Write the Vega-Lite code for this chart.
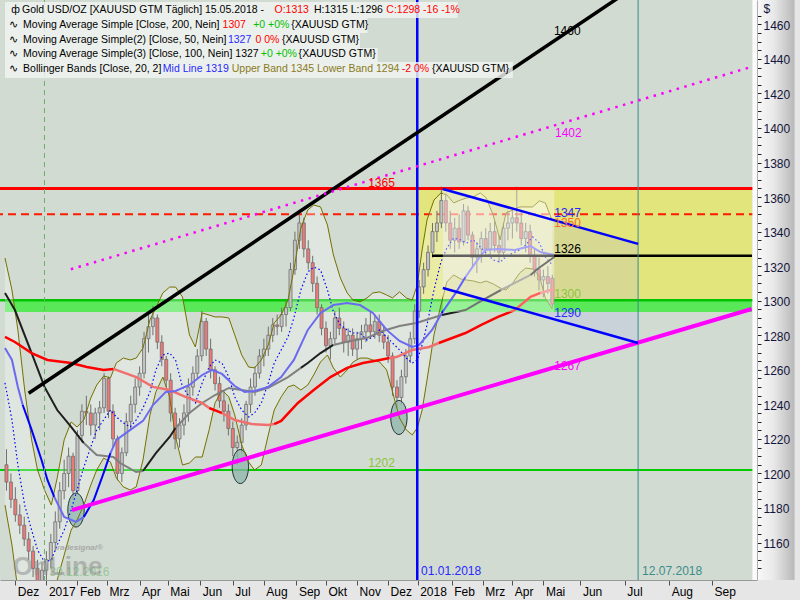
{
  "$schema": "https://vega.github.io/schema/vega-lite/v6.json",
  "width": 757,
  "height": 580,
  "autosize": "none",
  "padding": {"left": 0, "top": 0, "right": 43, "bottom": 20},
  "background": "#e6e6e6",
  "config": {
    "view": {"stroke": null, "fill": "#d1dbd1"},
    "axis": {"grid": false, "labelOverlap": false},
    "text": {"font": "Liberation Sans"}
  },
  "datasets": {
    "candles": [
      {"t": -6, "o": 1205, "h": 1214, "l": 1190, "c": 1195},
      {"t": -3, "o": 1195, "h": 1200, "l": 1180, "c": 1185},
      {"t": 0, "o": 1185, "h": 1192, "l": 1172, "c": 1176},
      {"t": 3, "o": 1176, "h": 1182, "l": 1165, "c": 1170},
      {"t": 6, "o": 1170, "h": 1175, "l": 1158, "c": 1162},
      {"t": 9, "o": 1162, "h": 1166, "l": 1150, "c": 1155},
      {"t": 12, "o": 1155, "h": 1158, "l": 1140, "c": 1145},
      {"t": 15, "o": 1145, "h": 1150, "l": 1128, "c": 1133},
      {"t": 18, "o": 1133, "h": 1148, "l": 1126, "c": 1144},
      {"t": 21, "o": 1144, "h": 1155, "l": 1138, "c": 1150},
      {"t": 24, "o": 1150, "h": 1165, "l": 1145, "c": 1160},
      {"t": 27, "o": 1160, "h": 1178, "l": 1155, "c": 1172},
      {"t": 30, "o": 1172, "h": 1195, "l": 1168, "c": 1190},
      {"t": 33, "o": 1190, "h": 1208, "l": 1185, "c": 1200},
      {"t": 36, "o": 1200, "h": 1215, "l": 1192, "c": 1210},
      {"t": 39, "o": 1210, "h": 1212, "l": 1185, "c": 1190},
      {"t": 42, "o": 1190, "h": 1225, "l": 1188, "c": 1222},
      {"t": 45, "o": 1222, "h": 1240, "l": 1218, "c": 1236},
      {"t": 48, "o": 1236, "h": 1245, "l": 1228, "c": 1235},
      {"t": 51, "o": 1235, "h": 1240, "l": 1222, "c": 1228},
      {"t": 54, "o": 1228, "h": 1238, "l": 1220, "c": 1235},
      {"t": 57, "o": 1235, "h": 1242, "l": 1225, "c": 1238},
      {"t": 60, "o": 1238, "h": 1258, "l": 1235, "c": 1255},
      {"t": 63, "o": 1255, "h": 1256, "l": 1232, "c": 1236},
      {"t": 66, "o": 1236, "h": 1240, "l": 1215, "c": 1220},
      {"t": 69, "o": 1220, "h": 1222, "l": 1196, "c": 1200},
      {"t": 72, "o": 1200, "h": 1215, "l": 1195, "c": 1212},
      {"t": 75, "o": 1212, "h": 1235, "l": 1210, "c": 1230},
      {"t": 78, "o": 1230, "h": 1245, "l": 1225, "c": 1240},
      {"t": 81, "o": 1240, "h": 1255, "l": 1235, "c": 1250},
      {"t": 84, "o": 1250, "h": 1262, "l": 1245, "c": 1258},
      {"t": 87, "o": 1258, "h": 1282, "l": 1255, "c": 1278},
      {"t": 90, "o": 1278, "h": 1292, "l": 1270, "c": 1285},
      {"t": 93, "o": 1285, "h": 1297, "l": 1280, "c": 1290},
      {"t": 96, "o": 1290, "h": 1292, "l": 1272, "c": 1276},
      {"t": 99, "o": 1276, "h": 1280, "l": 1262, "c": 1266},
      {"t": 102, "o": 1266, "h": 1268, "l": 1250, "c": 1254},
      {"t": 105, "o": 1254, "h": 1258, "l": 1230, "c": 1235},
      {"t": 108, "o": 1235, "h": 1238, "l": 1214, "c": 1220},
      {"t": 111, "o": 1220, "h": 1232, "l": 1215, "c": 1228},
      {"t": 114, "o": 1228, "h": 1240, "l": 1222, "c": 1235},
      {"t": 117, "o": 1235, "h": 1255, "l": 1230, "c": 1250},
      {"t": 120, "o": 1250, "h": 1262, "l": 1245, "c": 1258},
      {"t": 123, "o": 1258, "h": 1272, "l": 1255, "c": 1268},
      {"t": 126, "o": 1268, "h": 1294, "l": 1265, "c": 1288},
      {"t": 129, "o": 1288, "h": 1290, "l": 1268, "c": 1272},
      {"t": 132, "o": 1272, "h": 1278, "l": 1255, "c": 1260},
      {"t": 135, "o": 1260, "h": 1262, "l": 1248, "c": 1252},
      {"t": 138, "o": 1252, "h": 1256, "l": 1238, "c": 1242},
      {"t": 141, "o": 1242, "h": 1248, "l": 1230, "c": 1236},
      {"t": 144, "o": 1236, "h": 1240, "l": 1222, "c": 1226},
      {"t": 147, "o": 1226, "h": 1230, "l": 1210, "c": 1215},
      {"t": 150, "o": 1215, "h": 1222, "l": 1205, "c": 1218},
      {"t": 153, "o": 1218, "h": 1232, "l": 1212, "c": 1228},
      {"t": 156, "o": 1228, "h": 1242, "l": 1225, "c": 1240},
      {"t": 159, "o": 1240, "h": 1255, "l": 1235, "c": 1250},
      {"t": 162, "o": 1250, "h": 1262, "l": 1245, "c": 1258},
      {"t": 165, "o": 1258, "h": 1272, "l": 1255, "c": 1268},
      {"t": 168, "o": 1268, "h": 1278, "l": 1262, "c": 1272},
      {"t": 171, "o": 1272, "h": 1285, "l": 1268, "c": 1280},
      {"t": 174, "o": 1280, "h": 1290, "l": 1276, "c": 1286},
      {"t": 177, "o": 1286, "h": 1292, "l": 1280, "c": 1285},
      {"t": 180, "o": 1285, "h": 1296, "l": 1282, "c": 1292},
      {"t": 183, "o": 1292, "h": 1300, "l": 1285, "c": 1296},
      {"t": 186, "o": 1296, "h": 1322, "l": 1294, "c": 1318},
      {"t": 189, "o": 1318, "h": 1340, "l": 1315, "c": 1335},
      {"t": 192, "o": 1335, "h": 1352, "l": 1330, "c": 1345},
      {"t": 195, "o": 1345, "h": 1348, "l": 1325, "c": 1330},
      {"t": 198, "o": 1330, "h": 1335, "l": 1318, "c": 1322},
      {"t": 201, "o": 1322, "h": 1326, "l": 1305, "c": 1310},
      {"t": 204, "o": 1310, "h": 1314, "l": 1292, "c": 1296},
      {"t": 207, "o": 1296, "h": 1298, "l": 1280, "c": 1284},
      {"t": 210, "o": 1284, "h": 1288, "l": 1270, "c": 1274},
      {"t": 213, "o": 1274, "h": 1282, "l": 1266, "c": 1278},
      {"t": 216, "o": 1278, "h": 1294, "l": 1275, "c": 1290},
      {"t": 219, "o": 1290, "h": 1296, "l": 1280, "c": 1284},
      {"t": 222, "o": 1284, "h": 1288, "l": 1270, "c": 1276},
      {"t": 225, "o": 1276, "h": 1284, "l": 1268, "c": 1280},
      {"t": 228, "o": 1280, "h": 1284, "l": 1268, "c": 1272},
      {"t": 231, "o": 1272, "h": 1282, "l": 1266, "c": 1278},
      {"t": 234, "o": 1278, "h": 1286, "l": 1272, "c": 1282},
      {"t": 237, "o": 1282, "h": 1290, "l": 1276, "c": 1286},
      {"t": 240, "o": 1286, "h": 1294, "l": 1278, "c": 1282},
      {"t": 243, "o": 1282, "h": 1292, "l": 1278, "c": 1288},
      {"t": 246, "o": 1288, "h": 1292, "l": 1276, "c": 1280},
      {"t": 249, "o": 1280, "h": 1286, "l": 1272, "c": 1276},
      {"t": 252, "o": 1276, "h": 1280, "l": 1264, "c": 1268},
      {"t": 255, "o": 1268, "h": 1270, "l": 1245, "c": 1250},
      {"t": 258, "o": 1250, "h": 1254, "l": 1238, "c": 1244},
      {"t": 261, "o": 1244, "h": 1260, "l": 1240, "c": 1256},
      {"t": 264, "o": 1256, "h": 1272, "l": 1252, "c": 1268},
      {"t": 267, "o": 1268, "h": 1282, "l": 1264, "c": 1278},
      {"t": 270, "o": 1278, "h": 1298, "l": 1275, "c": 1294},
      {"t": 273, "o": 1294, "h": 1312, "l": 1290, "c": 1308},
      {"t": 276, "o": 1308, "h": 1322, "l": 1304, "c": 1318},
      {"t": 279, "o": 1318, "h": 1332, "l": 1314, "c": 1328},
      {"t": 282, "o": 1328, "h": 1345, "l": 1325, "c": 1340},
      {"t": 285, "o": 1340, "h": 1352, "l": 1334, "c": 1345},
      {"t": 288, "o": 1345, "h": 1366, "l": 1342, "c": 1358},
      {"t": 291, "o": 1358, "h": 1362, "l": 1340, "c": 1345},
      {"t": 294, "o": 1345, "h": 1352, "l": 1330, "c": 1335},
      {"t": 297, "o": 1335, "h": 1348, "l": 1328, "c": 1342},
      {"t": 300, "o": 1342, "h": 1350, "l": 1330, "c": 1334},
      {"t": 303, "o": 1334, "h": 1356, "l": 1332, "c": 1352},
      {"t": 306, "o": 1352, "h": 1355, "l": 1335, "c": 1338},
      {"t": 309, "o": 1338, "h": 1340, "l": 1320, "c": 1325},
      {"t": 312, "o": 1325, "h": 1334, "l": 1316, "c": 1330},
      {"t": 315, "o": 1330, "h": 1340, "l": 1322, "c": 1336},
      {"t": 318, "o": 1336, "h": 1342, "l": 1326, "c": 1330},
      {"t": 321, "o": 1330, "h": 1345, "l": 1326, "c": 1340},
      {"t": 324, "o": 1340, "h": 1346, "l": 1328, "c": 1332},
      {"t": 327, "o": 1332, "h": 1338, "l": 1322, "c": 1328},
      {"t": 330, "o": 1328, "h": 1345, "l": 1325, "c": 1342},
      {"t": 333, "o": 1342, "h": 1352, "l": 1335, "c": 1345},
      {"t": 336, "o": 1345, "h": 1354, "l": 1336, "c": 1348},
      {"t": 339, "o": 1348, "h": 1366, "l": 1340, "c": 1345},
      {"t": 342, "o": 1345, "h": 1352, "l": 1332, "c": 1336},
      {"t": 345, "o": 1336, "h": 1345, "l": 1328, "c": 1340},
      {"t": 348, "o": 1340, "h": 1344, "l": 1322, "c": 1326},
      {"t": 351, "o": 1326, "h": 1330, "l": 1314, "c": 1318},
      {"t": 354, "o": 1318, "h": 1325, "l": 1306, "c": 1312},
      {"t": 357, "o": 1312, "h": 1318, "l": 1302, "c": 1314},
      {"t": 360, "o": 1314, "h": 1320, "l": 1304, "c": 1310},
      {"t": 363, "o": 1313, "h": 1315, "l": 1296, "c": 1298}
    ],
    "bb": [
      {"t": -7, "up": 1324.7, "lo": 1181.7, "mid": 1252.4},
      {"t": -2.3, "up": 1306.2, "lo": 1158.6, "mid": 1231.0},
      {"t": 1.7, "up": 1283.1, "lo": 1132.5, "mid": 1204.9},
      {"t": 6.3, "up": 1248.3, "lo": 1118.1, "mid": 1181.7},
      {"t": 11, "up": 1219.4, "lo": 1112.3, "mid": 1167.2},
      {"t": 15, "up": 1202.0, "lo": 1110.5, "mid": 1155.7},
      {"t": 19.7, "up": 1190.4, "lo": 1114.0, "mid": 1148.7},
      {"t": 24.3, "up": 1181.7, "lo": 1123.8, "mid": 1149.9},
      {"t": 28.3, "up": 1197.4, "lo": 1138.3, "mid": 1158.6},
      {"t": 33, "up": 1219.4, "lo": 1152.8, "mid": 1167.2},
      {"t": 37.7, "up": 1229.8, "lo": 1167.2, "mid": 1178.8},
      {"t": 41.7, "up": 1226.9, "lo": 1173.0, "mid": 1190.4},
      {"t": 46.3, "up": 1231.0, "lo": 1181.7, "mid": 1203.7},
      {"t": 51, "up": 1243.7, "lo": 1193.3, "mid": 1215.3},
      {"t": 55, "up": 1251.2, "lo": 1202.0, "mid": 1225.2},
      {"t": 59.7, "up": 1256.4, "lo": 1208.9, "mid": 1231.0},
      {"t": 64.3, "up": 1255.3, "lo": 1206.6, "mid": 1236.7},
      {"t": 68.3, "up": 1264.0, "lo": 1197.4, "mid": 1232.7},
      {"t": 73, "up": 1266.8, "lo": 1192.2, "mid": 1229.2},
      {"t": 77.7, "up": 1265.7, "lo": 1190.4, "mid": 1226.9},
      {"t": 81.7, "up": 1266.8, "lo": 1192.2, "mid": 1231.0},
      {"t": 86.3, "up": 1272.6, "lo": 1207.8, "mid": 1237.9},
      {"t": 91, "up": 1288.9, "lo": 1233.8, "mid": 1247.2},
      {"t": 95, "up": 1295.8, "lo": 1247.2, "mid": 1259.9},
      {"t": 99.7, "up": 1304.5, "lo": 1255.8, "mid": 1268.6},
      {"t": 104.3, "up": 1307.9, "lo": 1244.3, "mid": 1269.7},
      {"t": 108.3, "up": 1307.9, "lo": 1221.1, "mid": 1265.7},
      {"t": 113, "up": 1302.2, "lo": 1204.9, "mid": 1250.1},
      {"t": 117.7, "up": 1280.2, "lo": 1206.0, "mid": 1244.3},
      {"t": 121.7, "up": 1273.2, "lo": 1209.5, "mid": 1240.8},
      {"t": 126.3, "up": 1292.9, "lo": 1209.5, "mid": 1252.4},
      {"t": 131, "up": 1291.7, "lo": 1225.2, "mid": 1261.6},
      {"t": 135, "up": 1290.6, "lo": 1240.8, "mid": 1265.7},
      {"t": 139.7, "up": 1290.6, "lo": 1248.3, "mid": 1263.9},
      {"t": 144.3, "up": 1290.0, "lo": 1244.3, "mid": 1255.8},
      {"t": 148.3, "up": 1280.2, "lo": 1233.9, "mid": 1244.3},
      {"t": 153, "up": 1268.6, "lo": 1216.5, "mid": 1236.7},
      {"t": 157.7, "up": 1261.6, "lo": 1206.6, "mid": 1232.7},
      {"t": 161.7, "up": 1261.1, "lo": 1202.0, "mid": 1235.0},
      {"t": 166.3, "up": 1265.7, "lo": 1204.9, "mid": 1240.8},
      {"t": 171, "up": 1274.4, "lo": 1222.3, "mid": 1252.4},
      {"t": 175, "up": 1287.1, "lo": 1236.7, "mid": 1263.9},
      {"t": 179.7, "up": 1291.7, "lo": 1244.3, "mid": 1271.5},
      {"t": 184.3, "up": 1300.4, "lo": 1250.1, "mid": 1279.0},
      {"t": 188.3, "up": 1317.8, "lo": 1251.2, "mid": 1290.0},
      {"t": 193, "up": 1342.1, "lo": 1248.3, "mid": 1306.2},
      {"t": 197.7, "up": 1352.5, "lo": 1251.2, "mid": 1316.6},
      {"t": 201.7, "up": 1355.4, "lo": 1257.0, "mid": 1319.5},
      {"t": 206.3, "up": 1354.3, "lo": 1264.5, "mid": 1317.8},
      {"t": 211, "up": 1343.8, "lo": 1268.6, "mid": 1306.2},
      {"t": 215, "up": 1326.5, "lo": 1261.1, "mid": 1293.5},
      {"t": 219.7, "up": 1313.2, "lo": 1255.8, "mid": 1285.9},
      {"t": 224.3, "up": 1304.5, "lo": 1259.9, "mid": 1283.1},
      {"t": 228.3, "up": 1300.4, "lo": 1264.5, "mid": 1281.3},
      {"t": 233, "up": 1299.3, "lo": 1266.8, "mid": 1281.3},
      {"t": 237.7, "up": 1301.6, "lo": 1266.8, "mid": 1277.3},
      {"t": 241.7, "up": 1304.5, "lo": 1265.7, "mid": 1279.0},
      {"t": 246.3, "up": 1305.1, "lo": 1264.5, "mid": 1283.1},
      {"t": 251, "up": 1303.3, "lo": 1259.9, "mid": 1279.0},
      {"t": 255, "up": 1301.6, "lo": 1247.2, "mid": 1275.5},
      {"t": 259.7, "up": 1305.1, "lo": 1232.1, "mid": 1271.5},
      {"t": 264.3, "up": 1301.6, "lo": 1225.2, "mid": 1266.8},
      {"t": 268.3, "up": 1300.4, "lo": 1222.3, "mid": 1263.9},
      {"t": 271.7, "up": 1309.1, "lo": 1226.3, "mid": 1265.7},
      {"t": 275, "up": 1329.4, "lo": 1236.7, "mid": 1274.4},
      {"t": 278.3, "up": 1346.7, "lo": 1254.1, "mid": 1286.0},
      {"t": 283, "up": 1358.3, "lo": 1280.2, "mid": 1306.2},
      {"t": 287.7, "up": 1362.4, "lo": 1297.5, "mid": 1322.4},
      {"t": 291.7, "up": 1361.2, "lo": 1310.9, "mid": 1330.5},
      {"t": 296.3, "up": 1356.6, "lo": 1314.9, "mid": 1336.3},
      {"t": 301, "up": 1358.3, "lo": 1312.6, "mid": 1335.2},
      {"t": 305, "up": 1359.5, "lo": 1312.0, "mid": 1333.4},
      {"t": 309.7, "up": 1360.1, "lo": 1311.4, "mid": 1335.2},
      {"t": 314.3, "up": 1362.4, "lo": 1310.3, "mid": 1331.1},
      {"t": 318.3, "up": 1359.5, "lo": 1311.4, "mid": 1327.6},
      {"t": 323, "up": 1349.6, "lo": 1309.7, "mid": 1323.6},
      {"t": 327.7, "up": 1335.2, "lo": 1307.4, "mid": 1322.4},
      {"t": 331.7, "up": 1350.8, "lo": 1306.2, "mid": 1325.3},
      {"t": 336.3, "up": 1352.5, "lo": 1310.3, "mid": 1327.6},
      {"t": 341, "up": 1354.3, "lo": 1316.1, "mid": 1329.4},
      {"t": 345, "up": 1354.3, "lo": 1318.9, "mid": 1332.3},
      {"t": 349.7, "up": 1354.3, "lo": 1318.4, "mid": 1336.9},
      {"t": 354.3, "up": 1357.8, "lo": 1314.3, "mid": 1333.4},
      {"t": 358.3, "up": 1356.6, "lo": 1301.6, "mid": 1325.3},
      {"t": 363, "up": 1346.2, "lo": 1295.2, "mid": 1320.7}
    ],
    "ma200": [
      {"t": -7, "p": 1279.0, "seg": 1, "tone": "a"},
      {"t": -0.3, "p": 1276.1, "seg": 1, "tone": "a"},
      {"t": 11, "p": 1269.7, "seg": 1, "tone": "a"},
      {"t": 21.7, "p": 1265.7, "seg": 1, "tone": "a"},
      {"t": 37.7, "p": 1263.9, "seg": 1, "tone": "a"},
      {"t": 48.3, "p": 1261.6, "seg": 1, "tone": "a"},
      {"t": 59.7, "p": 1259.9, "seg": 1, "tone": "a"},
      {"t": 66.3, "p": 1260.5, "seg": 1, "tone": "a"},
      {"t": 66.3, "p": 1260.5, "seg": 2, "tone": "b"},
      {"t": 81.7, "p": 1255.8, "seg": 2, "tone": "b"},
      {"t": 93, "p": 1250.1, "seg": 2, "tone": "b"},
      {"t": 104.3, "p": 1248.3, "seg": 2, "tone": "b"},
      {"t": 115, "p": 1244.3, "seg": 2, "tone": "b"},
      {"t": 126.3, "p": 1240.8, "seg": 2, "tone": "b"},
      {"t": 131, "p": 1237.9, "seg": 2, "tone": "b"},
      {"t": 131, "p": 1237.9, "seg": 3, "tone": "a"},
      {"t": 137.7, "p": 1235.6, "seg": 3, "tone": "a"},
      {"t": 139.7, "p": 1235.0, "seg": 3, "tone": "a"},
      {"t": 139.7, "p": 1235.0, "seg": 4, "tone": "b"},
      {"t": 148.3, "p": 1230.9, "seg": 4, "tone": "b"},
      {"t": 159.7, "p": 1228.6, "seg": 4, "tone": "b"},
      {"t": 171, "p": 1228.0, "seg": 4, "tone": "b"},
      {"t": 175, "p": 1228.6, "seg": 4, "tone": "b"},
      {"t": 175, "p": 1228.6, "seg": 5, "tone": "a"},
      {"t": 179.7, "p": 1230.4, "seg": 5, "tone": "a"},
      {"t": 191, "p": 1240.8, "seg": 5, "tone": "a"},
      {"t": 201.7, "p": 1248.3, "seg": 5, "tone": "a"},
      {"t": 213, "p": 1255.8, "seg": 5, "tone": "a"},
      {"t": 224.3, "p": 1261.1, "seg": 5, "tone": "a"},
      {"t": 235, "p": 1263.9, "seg": 5, "tone": "a"},
      {"t": 246.3, "p": 1265.7, "seg": 5, "tone": "a"},
      {"t": 253, "p": 1266.8, "seg": 5, "tone": "a"},
      {"t": 253, "p": 1266.8, "seg": 6, "tone": "b"},
      {"t": 257.7, "p": 1267.4, "seg": 6, "tone": "b"},
      {"t": 268.3, "p": 1271.5, "seg": 6, "tone": "b"},
      {"t": 279.7, "p": 1273.2, "seg": 6, "tone": "b"},
      {"t": 286.3, "p": 1275.5, "seg": 6, "tone": "b"},
      {"t": 286.3, "p": 1275.5, "seg": 7, "tone": "a"},
      {"t": 304.3, "p": 1281.3, "seg": 7, "tone": "a"},
      {"t": 315, "p": 1286.0, "seg": 7, "tone": "a"},
      {"t": 326.3, "p": 1290.6, "seg": 7, "tone": "a"},
      {"t": 337.7, "p": 1294.6, "seg": 7, "tone": "a"},
      {"t": 348.3, "p": 1302.2, "seg": 7, "tone": "a"},
      {"t": 355, "p": 1304.5, "seg": 7, "tone": "a"},
      {"t": 355, "p": 1304.5, "seg": 8, "tone": "b"},
      {"t": 364.3, "p": 1306.8, "seg": 8, "tone": "b"}
    ],
    "ma50": [
      {"t": -7, "p": 1272.6, "seg": 1, "tone": "a"},
      {"t": -2.3, "p": 1265.7, "seg": 1, "tone": "a"},
      {"t": 1.7, "p": 1250.1, "seg": 1, "tone": "a"},
      {"t": 5, "p": 1239.6, "seg": 1, "tone": "a"},
      {"t": 5, "p": 1239.6, "seg": 2, "tone": "b"},
      {"t": 11, "p": 1225.2, "seg": 2, "tone": "b"},
      {"t": 17.7, "p": 1207.8, "seg": 2, "tone": "b"},
      {"t": 21.7, "p": 1196.2, "seg": 2, "tone": "b"},
      {"t": 26.3, "p": 1186.4, "seg": 2, "tone": "b"},
      {"t": 26.3, "p": 1186.4, "seg": 3, "tone": "a"},
      {"t": 33, "p": 1174.8, "seg": 3, "tone": "a"},
      {"t": 41, "p": 1171.9, "seg": 3, "tone": "a"},
      {"t": 46.3, "p": 1174.8, "seg": 3, "tone": "a"},
      {"t": 46.3, "p": 1174.8, "seg": 4, "tone": "b"},
      {"t": 53, "p": 1184.6, "seg": 4, "tone": "b"},
      {"t": 59.7, "p": 1200.3, "seg": 4, "tone": "b"},
      {"t": 64.3, "p": 1211.8, "seg": 4, "tone": "b"},
      {"t": 64.3, "p": 1211.8, "seg": 5, "tone": "a"},
      {"t": 68.3, "p": 1219.4, "seg": 5, "tone": "a"},
      {"t": 77.7, "p": 1225.2, "seg": 5, "tone": "a"},
      {"t": 86.3, "p": 1230.4, "seg": 5, "tone": "a"},
      {"t": 93, "p": 1239.6, "seg": 5, "tone": "a"},
      {"t": 101.7, "p": 1247.2, "seg": 5, "tone": "a"},
      {"t": 108.3, "p": 1247.7, "seg": 5, "tone": "a"},
      {"t": 117.7, "p": 1251.2, "seg": 5, "tone": "a"},
      {"t": 126.3, "p": 1257.0, "seg": 5, "tone": "a"},
      {"t": 133, "p": 1259.9, "seg": 5, "tone": "a"},
      {"t": 139.7, "p": 1257.6, "seg": 5, "tone": "a"},
      {"t": 148.3, "p": 1250.6, "seg": 5, "tone": "a"},
      {"t": 155, "p": 1247.2, "seg": 5, "tone": "a"},
      {"t": 161.7, "p": 1247.7, "seg": 5, "tone": "a"},
      {"t": 171, "p": 1250.1, "seg": 5, "tone": "a"},
      {"t": 179.7, "p": 1255.8, "seg": 5, "tone": "a"},
      {"t": 188.3, "p": 1265.7, "seg": 5, "tone": "a"},
      {"t": 197.7, "p": 1283.1, "seg": 5, "tone": "a"},
      {"t": 206.3, "p": 1292.9, "seg": 5, "tone": "a"},
      {"t": 215, "p": 1297.5, "seg": 5, "tone": "a"},
      {"t": 224.3, "p": 1298.7, "seg": 5, "tone": "a"},
      {"t": 233, "p": 1297.5, "seg": 5, "tone": "a"},
      {"t": 241.7, "p": 1292.9, "seg": 5, "tone": "a"},
      {"t": 251, "p": 1283.1, "seg": 5, "tone": "a"},
      {"t": 259.7, "p": 1276.7, "seg": 5, "tone": "a"},
      {"t": 268.3, "p": 1273.2, "seg": 5, "tone": "a"},
      {"t": 273, "p": 1274.4, "seg": 5, "tone": "a"},
      {"t": 281.7, "p": 1283.1, "seg": 5, "tone": "a"},
      {"t": 288.3, "p": 1292.9, "seg": 5, "tone": "a"},
      {"t": 288.3, "p": 1292.9, "seg": 6, "tone": "b"},
      {"t": 297.7, "p": 1304.5, "seg": 6, "tone": "b"},
      {"t": 304.3, "p": 1313.7, "seg": 6, "tone": "b"},
      {"t": 304.3, "p": 1313.7, "seg": 7, "tone": "a"},
      {"t": 311, "p": 1321.9, "seg": 7, "tone": "a"},
      {"t": 317.7, "p": 1329.4, "seg": 7, "tone": "a"},
      {"t": 326.3, "p": 1329.9, "seg": 7, "tone": "a"},
      {"t": 337.7, "p": 1329.4, "seg": 7, "tone": "a"},
      {"t": 348.3, "p": 1331.7, "seg": 7, "tone": "a"},
      {"t": 355, "p": 1328.2, "seg": 7, "tone": "a"},
      {"t": 364.3, "p": 1326.5, "seg": 7, "tone": "a"}
    ],
    "ma100": [
      {"t": -7, "p": 1304.5, "seg": 1, "tone": "a"},
      {"t": -0.3, "p": 1294.6, "seg": 1, "tone": "a"},
      {"t": 11, "p": 1269.7, "seg": 1, "tone": "a"},
      {"t": 19.7, "p": 1250.1, "seg": 1, "tone": "a"},
      {"t": 28.3, "p": 1236.7, "seg": 1, "tone": "a"},
      {"t": 37.7, "p": 1226.9, "seg": 1, "tone": "a"},
      {"t": 46.3, "p": 1217.6, "seg": 1, "tone": "a"},
      {"t": 46.3, "p": 1217.6, "seg": 2, "tone": "b"},
      {"t": 55, "p": 1210.7, "seg": 2, "tone": "b"},
      {"t": 66.3, "p": 1209.5, "seg": 2, "tone": "b"},
      {"t": 71, "p": 1206.0, "seg": 2, "tone": "b"},
      {"t": 81.7, "p": 1200.8, "seg": 2, "tone": "b"},
      {"t": 86.3, "p": 1201.4, "seg": 2, "tone": "b"},
      {"t": 86.3, "p": 1201.4, "seg": 3, "tone": "a"},
      {"t": 95, "p": 1211.8, "seg": 3, "tone": "a"},
      {"t": 104.3, "p": 1221.1, "seg": 3, "tone": "a"},
      {"t": 108.3, "p": 1226.3, "seg": 3, "tone": "a"},
      {"t": 108.3, "p": 1226.3, "seg": 4, "tone": "b"},
      {"t": 117.7, "p": 1235.0, "seg": 4, "tone": "b"},
      {"t": 126.3, "p": 1240.8, "seg": 4, "tone": "b"},
      {"t": 135, "p": 1245.4, "seg": 4, "tone": "b"},
      {"t": 144.3, "p": 1249.5, "seg": 4, "tone": "b"},
      {"t": 153, "p": 1248.3, "seg": 4, "tone": "b"},
      {"t": 161.7, "p": 1247.2, "seg": 4, "tone": "b"},
      {"t": 171, "p": 1249.5, "seg": 4, "tone": "b"},
      {"t": 184.3, "p": 1255.8, "seg": 4, "tone": "b"},
      {"t": 193, "p": 1261.1, "seg": 4, "tone": "b"},
      {"t": 193, "p": 1261.1, "seg": 5, "tone": "a"},
      {"t": 197.7, "p": 1263.9, "seg": 5, "tone": "a"},
      {"t": 206.3, "p": 1269.7, "seg": 5, "tone": "a"},
      {"t": 215, "p": 1274.4, "seg": 5, "tone": "a"},
      {"t": 215, "p": 1274.4, "seg": 6, "tone": "b"},
      {"t": 226.3, "p": 1276.7, "seg": 6, "tone": "b"},
      {"t": 237.7, "p": 1278.4, "seg": 6, "tone": "b"},
      {"t": 248.3, "p": 1282.5, "seg": 6, "tone": "b"},
      {"t": 259.7, "p": 1285.4, "seg": 6, "tone": "b"},
      {"t": 271, "p": 1287.1, "seg": 6, "tone": "b"},
      {"t": 288.3, "p": 1291.7, "seg": 6, "tone": "b"},
      {"t": 288.3, "p": 1291.7, "seg": 7, "tone": "a"},
      {"t": 304.3, "p": 1294.6, "seg": 7, "tone": "a"},
      {"t": 315, "p": 1299.9, "seg": 7, "tone": "a"},
      {"t": 328.3, "p": 1306.2, "seg": 7, "tone": "a"},
      {"t": 328.3, "p": 1306.2, "seg": 8, "tone": "b"},
      {"t": 337.7, "p": 1310.3, "seg": 8, "tone": "b"},
      {"t": 348.3, "p": 1314.9, "seg": 8, "tone": "b"},
      {"t": 348.3, "p": 1314.9, "seg": 9, "tone": "a"},
      {"t": 353, "p": 1318.4, "seg": 9, "tone": "a"},
      {"t": 364.3, "p": 1325.3, "seg": 9, "tone": "a"}
    ],
    "labels": [
      {"t": 364.1, "p": 1456.4, "txt": "1460", "tone": "k"},
      {"t": 364.8, "p": 1397.3, "txt": "1402", "tone": "magenta"},
      {"t": 238.5, "p": 1368.0, "txt": "1365", "tone": "red"},
      {"t": 364.3, "p": 1345.2, "txt": "1350", "tone": "orange"},
      {"t": 364.3, "p": 1350.8, "txt": "1347", "tone": "blue"},
      {"t": 364.3, "p": 1329.9, "txt": "1326", "tone": "k"},
      {"t": 364.3, "p": 1303.9, "txt": "1300", "tone": "lime"},
      {"t": 364.3, "p": 1292.9, "txt": "1290", "tone": "blue"},
      {"t": 364.3, "p": 1262.2, "txt": "1267", "tone": "magenta"},
      {"t": 238.5, "p": 1205.9, "txt": "1202", "tone": "lime"},
      {"t": 274.3, "p": 1143.5, "txt": "01.01.2018", "tone": "blue"},
      {"t": 423.7, "p": 1143.5, "txt": "12.07.2018", "tone": "teal"},
      {"t": 23, "p": 1142.9, "txt": "30.12.2016", "tone": "pale"}
    ],
    "legend": [
      {"t": -2.8, "p": 1468.3, "txt": "ф", "tone": "k"},
      {"t": 4.5, "p": 1468.3, "txt": "Gold USD/OZ [XAUUSD GTM  Täglich] 15.05.2018 -", "tone": "k"},
      {"t": 175.2, "p": 1468.3, "txt": "O:1313", "tone": "red"},
      {"t": 201.9, "p": 1468.3, "txt": "H:1315 L:1296", "tone": "k"},
      {"t": 250.8, "p": 1468.3, "txt": "C:1298 -16 -1%", "tone": "red"},
      {"t": -4.3, "p": 1459.7, "txt": "∿", "tone": "k"},
      {"t": 5.2, "p": 1459.7, "txt": "Moving Average Simple [Close, 200, Nein]", "tone": "k"},
      {"t": 140.1, "p": 1459.7, "txt": "1307", "tone": "red"},
      {"t": 160.8, "p": 1459.7, "txt": "+0 +0%", "tone": "green"},
      {"t": 186.5, "p": 1459.7, "txt": "{XAUUSD GTM}", "tone": "k"},
      {"t": -4.3, "p": 1451.0, "txt": "∿", "tone": "k"},
      {"t": 5.2, "p": 1451.0, "txt": "Moving Average Simple(2) [Close, 50, Nein]", "tone": "k"},
      {"t": 143.7, "p": 1451.0, "txt": "1327", "tone": "blue"},
      {"t": 162.3, "p": 1451.0, "txt": "0 0%", "tone": "red"},
      {"t": 180.3, "p": 1451.0, "txt": "{XAUUSD GTM}", "tone": "k"},
      {"t": -4.3, "p": 1442.6, "txt": "∿", "tone": "k"},
      {"t": 5.2, "p": 1442.6, "txt": "Moving Average Simple(3) [Close, 100, Nein] 1327", "tone": "k"},
      {"t": 165.9, "p": 1442.6, "txt": "+0 +0%", "tone": "green"},
      {"t": 191.5, "p": 1442.6, "txt": "{XAUUSD GTM}", "tone": "k"},
      {"t": -4.3, "p": 1433.9, "txt": "∿", "tone": "k"},
      {"t": 5.2, "p": 1433.9, "txt": "Bollinger Bands [Close, 20, 2]", "tone": "k"},
      {"t": 99.7, "p": 1433.9, "txt": "Mid Line 1319", "tone": "blue"},
      {"t": 146.3, "p": 1433.9, "txt": "Upper Band 1345 Lower Band 1294", "tone": "olive"},
      {"t": 261.2, "p": 1433.9, "txt": "-2 0%", "tone": "red"},
      {"t": 281.6, "p": 1433.9, "txt": "{XAUUSD GTM}", "tone": "k"}
    ],
    "boxes": [
      {"t2": 299, "p1": 1473.0, "p2": 1463.7},
      {"t2": 238, "p1": 1463.7, "p2": 1455.0},
      {"t2": 233, "p1": 1455.0, "p2": 1446.3},
      {"t2": 245, "p1": 1446.3, "p2": 1438.2},
      {"t2": 336.3, "p1": 1438.2, "p2": 1429.0}
    ]
  },
  "layer": [
    {
      "data": {"values": [{"t0": 271.7, "t1": 498, "p0": 1300.4, "p1": 1365}]},
      "mark": {"type": "rect", "color": "#e2e47c"},
      "encoding": {
        "x": {
          "field": "t0", "type": "quantitative",
          "scale": {"domain": [-7, 498], "nice": false, "zero": false},
          "axis": {
            "title": null,
            "values": [0, 21, 42, 62, 84, 103, 125, 147, 168, 190, 210, 231, 252, 272, 295, 316, 336, 357, 382, 412, 442, 471],
            "tickCount": 200,
            "labelExpr": "['Dez','2017','Feb','Mrz','Apr','Mai','Jun','Jul','Aug','Sep','Okt','Nov','Dez','2018','Feb','Mrz','Apr','Mai','Jun','Jul','Aug','Sep'][indexof([0,21,42,62,84,103,125,147,168,190,210,231,252,272,295,316,336,357,382,412,442,471], datum.value)]",
            "labelAlign": "left",
            "labelOffset": 2,
            "labelPadding": 1,
            "labelFont": "Liberation Sans",
            "labelFontSize": 12,
            "labelColor": "#000000",
            "labelFlush": false,
            "labelOverlap": false,
            "labelBound": false,
            "tickSize": 5,
            "tickColor": "#505050",
            "domainColor": "#9a9a9a"
          }
        },
        "x2": {"field": "t1"},
        "y": {
          "field": "p0", "type": "quantitative",
          "scale": {"domain": [1138.3, 1474.1], "nice": false, "zero": false},
          "axis": {
            "orient": "right",
            "title": "$",
            "titleAngle": 0,
            "titleAlign": "left",
            "titleBaseline": "middle",
            "titleX": 6,
            "titleY": 8,
            "titleFont": "Liberation Sans",
            "titleFontSize": 12,
            "titleFontWeight": "normal",
            "titleColor": "#14143c",
            "values": [1145, 1150, 1155, 1160, 1165, 1170, 1175, 1180, 1185, 1190, 1195, 1200, 1205, 1210, 1215, 1220, 1225, 1230, 1235, 1240, 1245, 1250, 1255, 1260, 1265, 1270, 1275, 1280, 1285, 1290, 1295, 1300, 1305, 1310, 1315, 1320, 1325, 1330, 1335, 1340, 1345, 1350, 1355, 1360, 1365, 1370, 1375, 1380, 1385, 1390, 1395, 1400, 1405, 1410, 1415, 1420, 1425, 1430, 1435, 1440, 1445, 1450, 1455, 1460, 1465],
            "tickCount": 200,
            "format": "d",
            "labelExpr": "datum.value % 20 === 0 ? datum.label : ''",
            "labelFont": "Liberation Sans",
            "labelFontSize": 12,
            "labelColor": "#14143c",
            "labelPadding": 2,
            "labelOffset": 1,
            "labelOverlap": false,
            "labelFlush": false,
            "tickSize": 4,
            "tickColor": "#202020",
            "domainColor": "#b0b0b0",
            "zindex": 1
          }
        },
        "y2": {"field": "p1"}
      }
    },
    {
      "data": {"values": [{"t": 289, "hi": 1364.7, "lo": 1307.4}, {"t": 421, "hi": 1332.9, "lo": 1275.5}]},
      "mark": {"type": "area", "color": "#a8a8ff", "opacity": 0.18},
      "encoding": {
        "x": {"field": "t", "type": "quantitative"},
        "y": {"field": "hi", "type": "quantitative"},
        "y2": {"field": "lo"}
      }
    },
    {
      "data": {"values": [{"t0": -7, "t1": 498, "p0": 1293.5, "p1": 1300.4}]},
      "mark": {"type": "rect", "color": "#58e858"},
      "encoding": {
        "x": {"field": "t0", "type": "quantitative"},
        "x2": {"field": "t1"},
        "y": {"field": "p0", "type": "quantitative"},
        "y2": {"field": "p1"}
      }
    },
    {
      "data": {"values": [{"p": 1300.2}]},
      "mark": {"type": "rule", "color": "#00c400", "strokeWidth": 2.5},
      "encoding": {"y": {"field": "p", "type": "quantitative"}}
    },
    {
      "data": {"values": [{"p": 1202}]},
      "mark": {"type": "rule", "color": "#00cc00", "strokeWidth": 2},
      "encoding": {"y": {"field": "p", "type": "quantitative"}}
    },
    {
      "data": {"values": [{"p": 1350}]},
      "mark": {"type": "rule", "color": "#ff1a00", "strokeWidth": 2, "strokeDash": [8, 5]},
      "encoding": {"y": {"field": "p", "type": "quantitative"}}
    },
    {
      "data": {"name": "bb"},
      "mark": {"type": "area", "color": "#ffffff", "opacity": 0.3, "clip": true},
      "encoding": {
        "x": {"field": "t", "type": "quantitative"},
        "y": {"field": "up", "type": "quantitative"},
        "y2": {"field": "lo"}
      }
    },
    {
      "data": {"name": "candles"},
      "mark": {"type": "rule", "color": "#6e6e6e", "strokeWidth": 1, "clip": true},
      "encoding": {
        "x": {"field": "t", "type": "quantitative"},
        "y": {"field": "l", "type": "quantitative"},
        "y2": {"field": "h"}
      }
    },
    {
      "data": {"name": "candles"},
      "mark": {"type": "bar", "width": 3, "stroke": "#6e6e6e", "strokeWidth": 0.8, "clip": true},
      "encoding": {
        "x": {"field": "t", "type": "quantitative"},
        "y": {"field": "o", "type": "quantitative"},
        "y2": {"field": "c"},
        "color": {"condition": {"test": "datum.c < datum.o", "value": "#f07878"}, "value": "#c4c4c4"}
      }
    },
    {
      "data": {"values": [{"t": 152.1, "p": 1204.0}, {"t": 259.3, "p": 1232.4}, {"t": 41, "p": 1178.8}]},
      "mark": {
        "type": "point",
        "shape": "M -0.48 0 A 0.48 1 0 1 0 0.48 0 A 0.48 1 0 1 0 -0.48 0 Z",
        "size": 1160,
        "filled": true,
        "color": "#8cb4ac",
        "fillOpacity": 0.75,
        "stroke": "#142424",
        "strokeWidth": 1,
        "strokeOpacity": 0.9
      },
      "encoding": {
        "x": {"field": "t", "type": "quantitative"},
        "y": {"field": "p", "type": "quantitative"}
      }
    },
    {
      "data": {"name": "bb"},
      "mark": {"type": "line", "color": "#767000", "strokeWidth": 1, "clip": true},
      "encoding": {
        "x": {"field": "t", "type": "quantitative"},
        "y": {"field": "up", "type": "quantitative"}
      }
    },
    {
      "data": {"name": "bb"},
      "mark": {"type": "line", "color": "#767000", "strokeWidth": 1, "clip": true},
      "encoding": {
        "x": {"field": "t", "type": "quantitative"},
        "y": {"field": "lo", "type": "quantitative"}
      }
    },
    {
      "data": {"name": "bb"},
      "mark": {"type": "line", "color": "#0000ff", "strokeWidth": 1.2, "strokeDash": [1.5, 2.5], "clip": true},
      "encoding": {
        "x": {"field": "t", "type": "quantitative"},
        "y": {"field": "mid", "type": "quantitative"}
      }
    },
    {
      "data": {"name": "ma100"},
      "mark": {"type": "line", "strokeWidth": 2, "clip": true},
      "encoding": {
        "x": {"field": "t", "type": "quantitative"},
        "y": {"field": "p", "type": "quantitative"},
        "detail": {"field": "seg", "type": "nominal"},
        "color": {"condition": {"test": "datum.tone === 'b'", "value": "#808080"}, "value": "#1e1e1e"}
      }
    },
    {
      "data": {"name": "ma200"},
      "mark": {"type": "line", "strokeWidth": 2.5, "clip": true},
      "encoding": {
        "x": {"field": "t", "type": "quantitative"},
        "y": {"field": "p", "type": "quantitative"},
        "detail": {"field": "seg", "type": "nominal"},
        "color": {"condition": {"test": "datum.tone === 'b'", "value": "#f07070"}, "value": "#ff0000"}
      }
    },
    {
      "data": {"name": "ma50"},
      "mark": {"type": "line", "strokeWidth": 2, "clip": true},
      "encoding": {
        "x": {"field": "t", "type": "quantitative"},
        "y": {"field": "p", "type": "quantitative"},
        "detail": {"field": "seg", "type": "nominal"},
        "color": {"condition": {"test": "datum.tone === 'b'", "value": "#0000ff"}, "value": "#6a6af0"}
      }
    },
    {
      "data": {"values": [{"t0": 281.7, "t1": 498, "p": 1326}]},
      "mark": {"type": "rule", "color": "#000000", "strokeWidth": 2.5},
      "encoding": {
        "x": {"field": "t0", "type": "quantitative"},
        "x2": {"field": "t1"},
        "y": {"field": "p", "type": "quantitative"}
      }
    },
    {
      "data": {"values": [{"t0": 289, "t1": 364.3, "p0": 1293.5, "p1": 1364}]},
      "mark": {"type": "rect", "color": "#ffffff", "opacity": 0.38},
      "encoding": {
        "x": {"field": "t0", "type": "quantitative"},
        "x2": {"field": "t1"},
        "y": {"field": "p0", "type": "quantitative"},
        "y2": {"field": "p1"}
      }
    },
    {
      "data": {"values": [{"p": 1365}]},
      "mark": {"type": "rule", "color": "#ff0000", "strokeWidth": 3},
      "encoding": {"y": {"field": "p", "type": "quantitative"}}
    },
    {
      "data": {"values": [{"t": 271.7}]},
      "mark": {"type": "rule", "color": "#0000ff", "strokeWidth": 2.5},
      "encoding": {"x": {"field": "t", "type": "quantitative"}}
    },
    {
      "data": {"values": [{"t": 421}]},
      "mark": {"type": "rule", "color": "#3c8c8c", "strokeWidth": 1},
      "encoding": {"x": {"field": "t", "type": "quantitative"}}
    },
    {
      "data": {"values": [{"t": 19.7}]},
      "mark": {"type": "rule", "color": "#6cb06c", "strokeWidth": 1, "strokeDash": [5, 4]},
      "encoding": {"x": {"field": "t", "type": "quantitative"}}
    },
    {
      "data": {"values": [{"t": 9, "p": 1246.4}, {"t": 497, "p": 1526.7}]},
      "mark": {"type": "line", "color": "#000000", "strokeWidth": 3.5, "clip": true},
      "encoding": {
        "x": {"field": "t", "type": "quantitative"},
        "y": {"field": "p", "type": "quantitative"}
      }
    },
    {
      "data": {"values": [{"t": 37.5, "p": 1318.2}, {"t": 497.7, "p": 1435.4}]},
      "mark": {"type": "line", "color": "#ff00ff", "strokeWidth": 2.5, "strokeDash": [2.5, 5.5], "clip": true},
      "encoding": {
        "x": {"field": "t", "type": "quantitative"},
        "y": {"field": "p", "type": "quantitative"}
      }
    },
    {
      "data": {"values": [{"t": 38.3, "p": 1178.8}, {"t": 497.7, "p": 1295.2}]},
      "mark": {"type": "line", "color": "#ff00ff", "strokeWidth": 4, "clip": true},
      "encoding": {
        "x": {"field": "t", "type": "quantitative"},
        "y": {"field": "p", "type": "quantitative"}
      }
    },
    {
      "data": {"values": [
        {"t": 289, "p": 1364.7, "k": "upper"}, {"t": 421, "p": 1332.9, "k": "upper"},
        {"t": 289, "p": 1307.4, "k": "lower"}, {"t": 421, "p": 1275.5, "k": "lower"}
      ]},
      "mark": {"type": "line", "color": "#0000ff", "strokeWidth": 2.5},
      "encoding": {
        "x": {"field": "t", "type": "quantitative"},
        "y": {"field": "p", "type": "quantitative"},
        "detail": {"field": "k", "type": "nominal"}
      }
    },
    {
      "data": {"name": "labels"},
      "mark": {"type": "text", "align": "left", "baseline": "middle", "font": "Liberation Sans", "fontSize": 12},
      "encoding": {
        "x": {"field": "t", "type": "quantitative"},
        "y": {"field": "p", "type": "quantitative"},
        "text": {"field": "txt", "type": "nominal"},
        "color": {
          "field": "tone", "type": "nominal", "legend": null,
          "scale": {
            "domain": ["k", "red", "green", "blue", "olive", "orange", "magenta", "lime", "teal", "pale"],
            "range": ["#000000", "#ff0000", "#00c000", "#2828ff", "#8a7a1a", "#ff6a2a", "#ff00ff", "#8cc43c", "#3c8c8c", "#98c898"]
          }
        }
      }
    },
    {
      "data": {"name": "boxes"},
      "mark": {"type": "rect", "color": "#f2f4f2", "opacity": 0.82},
      "encoding": {
        "x": {"field": "t2", "type": "quantitative"},
        "x2": {"datum": -7},
        "y": {"field": "p1", "type": "quantitative"},
        "y2": {"field": "p2"}
      }
    },
    {
      "data": {"name": "legend"},
      "mark": {"type": "text", "align": "left", "baseline": "middle", "font": "Liberation Sans", "fontSize": 10.5},
      "encoding": {
        "x": {"field": "t", "type": "quantitative"},
        "y": {"field": "p", "type": "quantitative"},
        "text": {"field": "txt", "type": "nominal"},
        "color": {
          "field": "tone", "type": "nominal", "legend": null,
          "scale": {
            "domain": ["k", "red", "green", "blue", "olive", "orange", "magenta", "lime", "teal", "pale"],
            "range": ["#000000", "#ff0000", "#00c000", "#2828ff", "#8a7a1a", "#ff6a2a", "#ff00ff", "#8cc43c", "#3c8c8c", "#98c898"]
          }
        }
      }
    },
    {
      "data": {"values": [{"t": -1.7, "p": 1141.2, "txt": "OnLine"}]},
      "mark": {"type": "text", "align": "left", "baseline": "alphabetic", "font": "Liberation Sans", "fontSize": 26, "fontWeight": "bold", "color": "#8a8a8a", "opacity": 0.5},
      "encoding": {
        "x": {"field": "t", "type": "quantitative"},
        "y": {"field": "p", "type": "quantitative"},
        "text": {"field": "txt", "type": "nominal"}
      }
    },
    {
      "data": {"values": [{"t": 26.3, "p": 1156.6, "txt": "tradesignal®"}]},
      "mark": {"type": "text", "align": "left", "baseline": "middle", "font": "Liberation Sans", "fontSize": 8, "fontWeight": "bold", "fontStyle": "italic", "color": "#9a9a9a", "opacity": 0.75},
      "encoding": {
        "x": {"field": "t", "type": "quantitative"},
        "y": {"field": "p", "type": "quantitative"},
        "text": {"field": "txt", "type": "nominal"}
      }
    },
    {
      "data": {"values": [{"t0": 498.3, "t1": 526.8, "p0": 1138.3, "p1": 1474.13}]},
      "mark": {
        "type": "rect",
        "clip": false,
        "color": {
          "gradient": "linear", "x1": 0, "x2": 1, "y1": 0, "y2": 0,
          "stops": [
            {"offset": 0, "color": "#fdfdfd"},
            {"offset": 0.5, "color": "#e9e9e9"},
            {"offset": 1, "color": "#b8b8b8"}
          ]
        }
      },
      "encoding": {
        "x": {"field": "t0", "type": "quantitative"},
        "x2": {"field": "t1"},
        "y": {"field": "p0", "type": "quantitative"},
        "y2": {"field": "p1"}
      }
    }
  ]
}
